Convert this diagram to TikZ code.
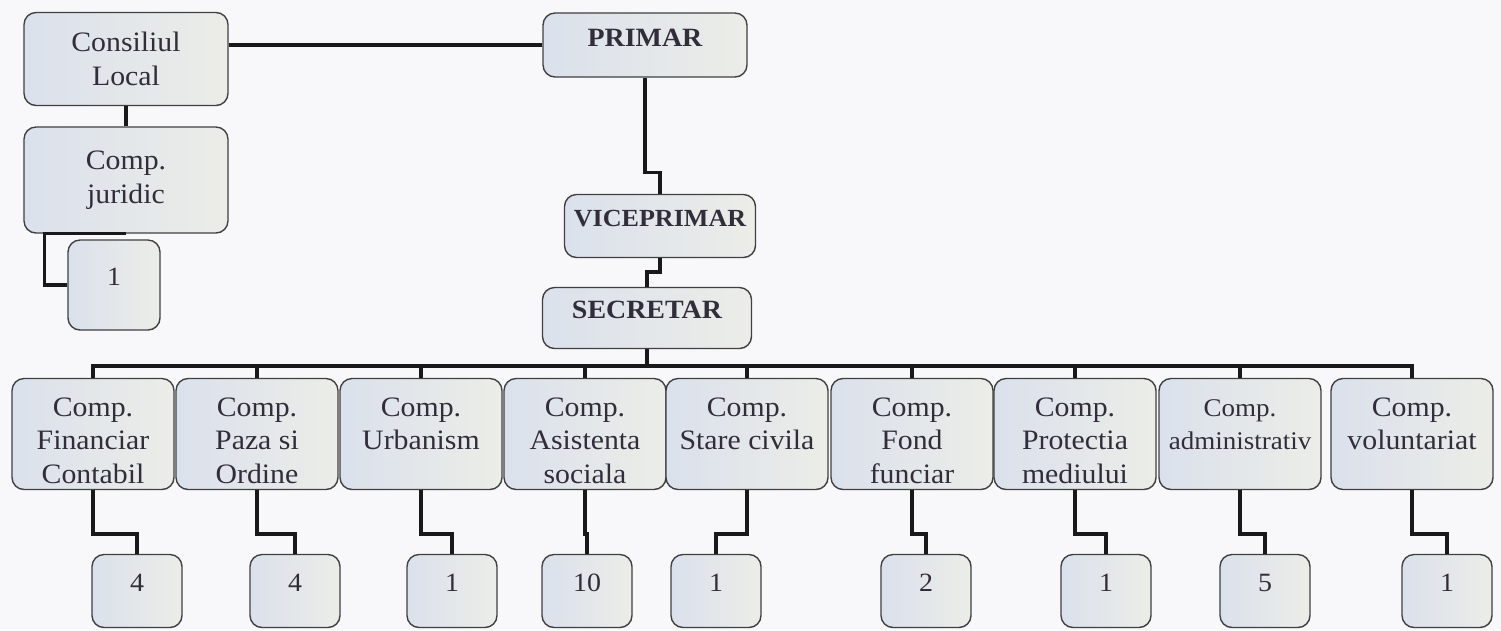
\documentclass[tikz,border=0pt]{standalone}
\usepackage{fontspec}
\setmainfont{Liberation Serif}[FakeStretch=1.06]
\usetikzlibrary{calc}
\definecolor{boxleft}{RGB}{219,225,236}
\definecolor{boxright}{RGB}{236,237,232}
\definecolor{paper}{RGB}{248,247,250}
\definecolor{ink}{RGB}{50,45,58}
\newcommand{\topgap}{\rule{0pt}{18pt}}

\tikzset{
	box/.style={draw=black!75, line width=0.8pt, rounded corners=0.24cm, left color=boxleft, right color=boxright, text=ink, align=center, font=\fontsize{16}{19}\selectfont},
	headbox/.style={box, font=\fontsize{15}{18}\selectfont\bfseries, text height=11pt, text depth=10pt},
	numbox/.style={box, minimum width=1.8cm, minimum height=1.46cm, text height=11pt, text depth=10pt, font=\fontsize{15}{18}\selectfont},
	compbox/.style={box, minimum width=3.24cm, minimum height=2.22cm},
	link/.style={line width=2pt, black!90}
}

\begin{document}
\begin{tikzpicture}[x=0.02cm, y=-0.02cm]
	\fill[paper] (0,0) rectangle (1501,630);
	\useasboundingbox (0,0) rectangle (1501,630);

	% left branch
	\node[box, minimum width=4.08cm, minimum height=1.86cm] (cons) at (126,59) {Consiliul\\Local};
	\node[box, minimum width=4.08cm, minimum height=2.12cm] (jur) at (126,180) {Comp.\\juridic};
	\node[numbox, minimum width=1.84cm, minimum height=1.8cm] (jur1) at (114,285) {1};

	% head
	\node[headbox, minimum width=4.08cm, minimum height=1.28cm, text depth=9pt] (pri) at (645,45) {PRIMAR};
	\node[headbox, minimum width=3.82cm, minimum height=1.26cm, font=\fontsize{14}{17}\selectfont\bfseries] (vice) at (660,226) {VICEPRIMAR};
	\node[headbox, minimum width=4.18cm, minimum height=1.22cm] (sec) at (647,318) {SECRETAR};

	% compartimente
	\node[compbox] (fin) at (93,434) {\topgap Comp.\\Financiar\\Contabil};
	\node[compbox] (paz) at (257,434) {\topgap Comp.\\Paza si\\Ordine};
	\node[compbox] (urb) at (421,434) {\topgap Comp.\\Urbanism\\\mbox{}};
	\node[compbox] (asi) at (585,434) {\topgap Comp.\\Asistenta\\sociala};
	\node[compbox] (sta) at (747,434) {\topgap Comp.\\Stare civila\\\mbox{}};
	\node[compbox] (fon) at (912,434) {\topgap Comp.\\Fond\\funciar};
	\node[compbox] (pro) at (1075,434) {\topgap Comp.\\Protectia\\mediului};
	\node[compbox, font=\fontsize{14.5}{19}\selectfont] (adm) at (1240,434) {\topgap Comp.\\administrativ\\\mbox{}};
	\node[compbox] (vol) at (1412,434) {\topgap Comp.\\voluntariat\\\mbox{}};

	% numbers
	\node[numbox] (fin1) at (137,591) {4};
	\node[numbox] (paz1) at (295,591) {4};
	\node[numbox] (urb1) at (452,591) {1};
	\node[numbox] (asi1) at (587,591) {10};
	\node[numbox] (sta1) at (716,591) {1};
	\node[numbox] (fon1) at (926,591) {2};
	\node[numbox] (pro1) at (1106,591) {1};
	\node[numbox] (adm1) at (1265,591) {5};
	\node[numbox] (vol1) at (1447,591) {1};

	\draw[link] (pri.west) -- (pri.west -| cons.east);
	\draw[link] (cons.south) -- (jur.north);
	\draw[link] (jur.south) -| ([xshift=-0.46cm]jur1.west) -- (jur1.west);
	\draw[link] (pri.south) -- ++(0,95) -| (vice.north);
	\draw[link] (vice.south) -- ++(0,14) -| (sec.north);
	\draw[link] (sec.south) -- ++(0,17) coordinate (bus);
	\foreach \n in {fin,paz,urb,asi,sta,fon,pro,adm,vol}
		\draw[link] (\n.north) |- (bus);
	\foreach \n in {fin,paz,urb,asi,sta,fon,pro,adm,vol}
		\draw[link] (\n.south) -- ++(0,44) -| (\n1.north);
\end{tikzpicture}
\end{document}
